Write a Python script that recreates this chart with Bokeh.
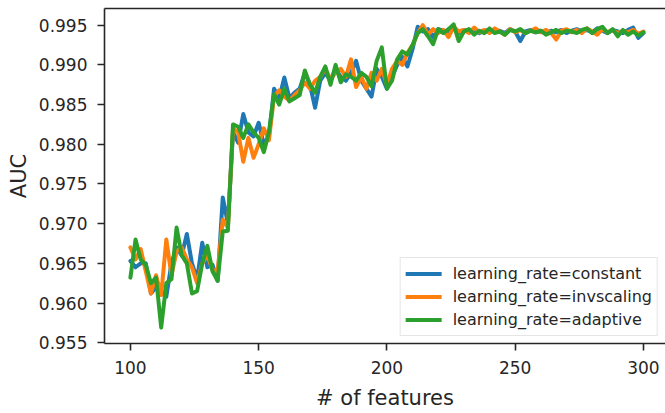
from bokeh.plotting import figure
from bokeh.models import (Range1d, FixedTicker, PrintfTickFormatter, LinearAxis,
                          Legend, LegendItem)
from bokeh.embed import file_html
from bokeh.resources import INLINE

# number of features evaluated (every second count from 100 to 300)
n_features = list(range(100, 301, 2))

auc_constant = [
    0.9653, 0.9645, 0.9650, 0.9650, 0.9612, 0.9620, 0.9615, 0.9608, 0.9650, 0.9670,
    0.9660, 0.9687, 0.9650, 0.9630, 0.9676, 0.9645, 0.9648, 0.9628, 0.9733, 0.9700,
    0.9815, 0.9802, 0.9838, 0.9815, 0.9810, 0.9827, 0.9800, 0.9810, 0.9870, 0.9858,
    0.9884, 0.9858, 0.9865, 0.9870, 0.9890, 0.9875, 0.9846, 0.9880, 0.9890, 0.9880,
    0.9895, 0.9885, 0.9880, 0.9890, 0.9905, 0.9880, 0.9870, 0.9860, 0.9895, 0.9885,
    0.9870, 0.9885, 0.9900, 0.9910, 0.9898, 0.9920, 0.9948, 0.9942, 0.9945, 0.9935,
    0.9945, 0.9943, 0.9940, 0.9946, 0.9940, 0.9944, 0.9942, 0.9945, 0.9940, 0.9943,
    0.9944, 0.9941, 0.9943, 0.9940, 0.9945, 0.9942, 0.9930, 0.9942, 0.9944, 0.9941,
    0.9943, 0.9940, 0.9943, 0.9941, 0.9944, 0.9940, 0.9943, 0.9945, 0.9942, 0.9944,
    0.9941, 0.9946, 0.9943, 0.9940, 0.9944, 0.9942, 0.9940, 0.9944, 0.9947, 0.9934,
    0.9940,
]

auc_invscaling = [
    0.9670, 0.9655, 0.9668, 0.9640, 0.9612, 0.9635, 0.9610, 0.9680, 0.9635, 0.9665,
    0.9670, 0.9655, 0.9645, 0.9625, 0.9650, 0.9660, 0.9642, 0.9640, 0.9705, 0.9695,
    0.9820, 0.9815, 0.9778, 0.9808, 0.9783, 0.9800, 0.9820, 0.9805, 0.9860, 0.9868,
    0.9860, 0.9855, 0.9862, 0.9868, 0.9878, 0.9870, 0.9880, 0.9885, 0.9895, 0.9882,
    0.9890, 0.9895, 0.9885, 0.9907, 0.9872, 0.9885, 0.9870, 0.9890, 0.9880, 0.9895,
    0.9875, 0.9895, 0.9905, 0.9900, 0.9915, 0.9925, 0.9940, 0.9950, 0.9938, 0.9945,
    0.9940, 0.9944, 0.9935, 0.9948, 0.9942, 0.9944, 0.9940, 0.9947, 0.9941, 0.9944,
    0.9940, 0.9946, 0.9942, 0.9938, 0.9945, 0.9941, 0.9944, 0.9940, 0.9943, 0.9946,
    0.9941, 0.9944, 0.9940, 0.9932, 0.9943, 0.9945, 0.9941, 0.9944, 0.9940, 0.9946,
    0.9942, 0.9938, 0.9945, 0.9941, 0.9944, 0.9940, 0.9943, 0.9941, 0.9944, 0.9939,
    0.9942,
]

auc_adaptive = [
    0.9632, 0.9680, 0.9655, 0.9648, 0.9625, 0.9632, 0.9569, 0.9625, 0.9630, 0.9695,
    0.9660, 0.9650, 0.9612, 0.9615, 0.9650, 0.9672, 0.9640, 0.9628, 0.9690, 0.9691,
    0.9825, 0.9822, 0.9808, 0.9825, 0.9815, 0.9808, 0.9790, 0.9815, 0.9863, 0.9850,
    0.9870, 0.9854, 0.9858, 0.9862, 0.9893, 0.9875, 0.9865, 0.9885, 0.9898, 0.9875,
    0.9900, 0.9878, 0.9888, 0.9885, 0.9880, 0.9890, 0.9885, 0.9873, 0.9905, 0.9922,
    0.9870, 0.9880, 0.9907, 0.9917, 0.9913, 0.9925, 0.9940, 0.9945, 0.9936, 0.9926,
    0.9945, 0.9940, 0.9945, 0.9951, 0.9930, 0.9942, 0.9945, 0.9938, 0.9943, 0.9940,
    0.9946, 0.9940, 0.9942, 0.9938, 0.9944, 0.9942, 0.9945, 0.9940, 0.9943, 0.9941,
    0.9943, 0.9938, 0.9941, 0.9944, 0.9940, 0.9943, 0.9942, 0.9940, 0.9944, 0.9946,
    0.9940, 0.9945, 0.9948, 0.9940, 0.9945, 0.9936, 0.9944, 0.9938, 0.9942, 0.9937,
    0.9941,
]

series_labels = ["learning_rate=constant", "learning_rate=invscaling",
                 "learning_rate=adaptive"]
series_colors = ["#1f77b4", "#ff7f0e", "#2ca02c"]

x_ticks = [100, 150, 200, 250, 300]
y_ticks = [0.955, 0.960, 0.965, 0.970, 0.975, 0.980, 0.985, 0.990, 0.995]

FONT = "DejaVu Sans"
INK = "#262626"

p = figure(width=665, height=413,
           x_range=Range1d(89.9, 308.6), y_range=Range1d(0.9549, 0.9971),
           output_backend="svg", toolbar_location=None,
           min_border_left=104, min_border_right=0,
           min_border_top=8, min_border_bottom=70)
p.outline_line_color = None
p.xgrid.visible = False
p.ygrid.visible = False
p.background_fill_color = "white"
p.border_fill_color = "white"

items = []
for vals, label, color in zip([auc_constant, auc_invscaling, auc_adaptive],
                              series_labels, series_colors):
    r = p.line(n_features, vals, line_color=color, line_width=4,
               line_join="round", line_cap="round")
    items.append(LegendItem(label=label, renderers=[r]))

# axes styling
for ax in (p.xaxis[0], p.yaxis[0]):
    ax.axis_line_color = INK
    ax.axis_line_width = 1.6
    ax.major_tick_line_color = INK
    ax.major_tick_line_width = 1.6
    ax.major_tick_out = 7
    ax.major_tick_in = 0
    ax.minor_tick_line_color = None
    ax.major_label_text_font = FONT
    ax.major_label_text_font_size = "17px"
    ax.major_label_text_color = INK
    ax.axis_label_text_font = FONT
    ax.axis_label_text_font_size = "21px"
    ax.axis_label_text_font_style = "normal"
    ax.axis_label_text_color = INK

p.xaxis.ticker = FixedTicker(ticks=x_ticks)
p.xaxis.axis_label = "# of features"
p.xaxis.major_label_standoff = 10
p.xaxis.axis_label_standoff = 9

p.yaxis.ticker = FixedTicker(ticks=y_ticks)
p.yaxis.formatter = PrintfTickFormatter(format="%.3f")
p.yaxis.axis_label = "AUC"
p.yaxis.major_label_standoff = 10
p.yaxis.axis_label_standoff = 5

# top spine
top = LinearAxis(ticker=FixedTicker(ticks=[]), axis_line_color=INK,
                 axis_line_width=1.6, major_tick_line_color=None,
                 minor_tick_line_color=None, major_label_text_font_size="0px")
p.add_layout(top, "above")

legend = Legend(items=items, location="bottom_right")
legend.label_text_font = FONT
legend.label_text_font_size = "16px"
legend.label_text_color = INK
legend.glyph_width = 36
legend.glyph_height = 21
legend.label_height = 21
legend.label_standoff = 11
legend.spacing = 2
legend.padding = 5
legend.margin = 7
legend.border_line_color = "#cccccc"
legend.border_line_width = 1.5
legend.background_fill_color = "white"
legend.background_fill_alpha = 0.85
p.add_layout(legend)

open("out.html", "w").write(file_html(p, INLINE))
